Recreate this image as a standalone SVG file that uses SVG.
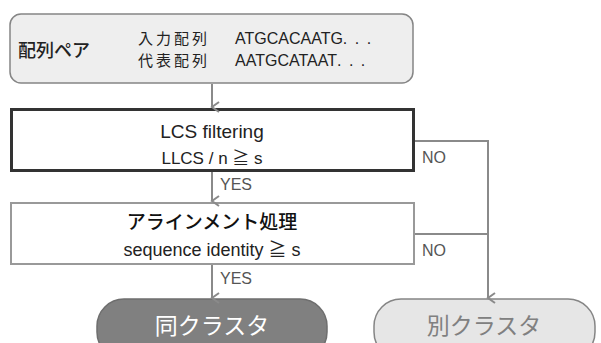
<svg xmlns="http://www.w3.org/2000/svg" width="601" height="343" viewBox="0 0 601 343">
<defs>
<marker id="arr" markerWidth="12" markerHeight="12" refX="6" refY="10" orient="auto-start-reverse" markerUnits="userSpaceOnUse" viewBox="0 0 12 12">
<polyline points="1,3 6,10 11,3" fill="none" stroke="#8a8a8a" stroke-width="2"/>
</marker>
<style>
text{font-family:"Liberation Sans","Noto Sans CJK JP",sans-serif;}
.jp{font-family:"Noto Sans CJK JP","Liberation Sans",sans-serif;}
.c{fill:none;stroke:#8a8a8a;stroke-width:2;}
.lbl{font-size:16px;fill:#555;}
</style>
</defs>
<rect width="601" height="343" fill="#fff"/>
<g id="pair">
<rect x="10" y="14" width="403" height="69" rx="11" fill="#eeeeee" stroke="#858585" stroke-width="1.5"/>
<text class="jp" x="18" y="57" font-size="18" fill="#222" font-weight="500">配列ペア</text>
<text class="jp" x="138" y="44" font-size="15" fill="#222" letter-spacing="3">入力配列</text>
<text class="jp" x="138" y="66" font-size="15" fill="#222" letter-spacing="3">代表配列</text>
<text x="235" y="44" font-size="16" fill="#222">ATGCACAATG<tspan letter-spacing="7.5">...</tspan></text>
<text x="235" y="66" font-size="16" fill="#222">AATGCATAAT<tspan letter-spacing="7.5">...</tspan></text>
</g>
<g id="lcs">
<rect x="11.5" y="109.5" width="402" height="61" fill="#fff" stroke="#333" stroke-width="3"/>
<text x="212" y="138" font-size="19" fill="#222" text-anchor="middle">LCS filtering</text>
<text x="212" y="164" font-size="17" fill="#222" text-anchor="middle">LLCS / n ≧ s</text>
</g>
<g id="align">
<rect x="11" y="203" width="403" height="61" fill="#fff" stroke="#999" stroke-width="2"/>
<text class="jp" x="212" y="229" font-size="19" fill="#111" text-anchor="middle" font-weight="500">アラインメント処理</text>
<text x="212" y="256" font-size="18" fill="#222" text-anchor="middle">sequence identity ≧ s</text>
</g>
<g id="same">
<rect x="97" y="299" width="230" height="60" rx="27" fill="#808080" stroke="#6e6e6e" stroke-width="1.5"/>
<text class="jp" x="212" y="334" font-size="23" fill="#fff" text-anchor="middle">同クラスタ</text>
</g>
<g id="diff">
<rect x="374" y="299" width="221" height="60" rx="27" fill="#e6e6e6" stroke="#858585" stroke-width="1.5"/>
<text class="jp" x="484" y="334" font-size="23" fill="#808080" text-anchor="middle">別クラスタ</text>
</g>
<g id="connectors">
<line class="c" x1="212" y1="84" x2="212" y2="107" marker-end="url(#arr)"/>
<line class="c" x1="212" y1="172" x2="212" y2="201" marker-end="url(#arr)"/>
<line class="c" x1="212" y1="265" x2="212" y2="298" marker-end="url(#arr)"/>
<polyline class="c" points="415,141 488,141 488,298" marker-end="url(#arr)"/>
<line class="c" x1="415" y1="234" x2="488" y2="234"/>
<text class="lbl" x="220" y="190">YES</text>
<text class="lbl" x="220" y="284">YES</text>
<text class="lbl" x="422" y="163">NO</text>
<text class="lbl" x="422" y="256">NO</text>
</g>
</svg>
